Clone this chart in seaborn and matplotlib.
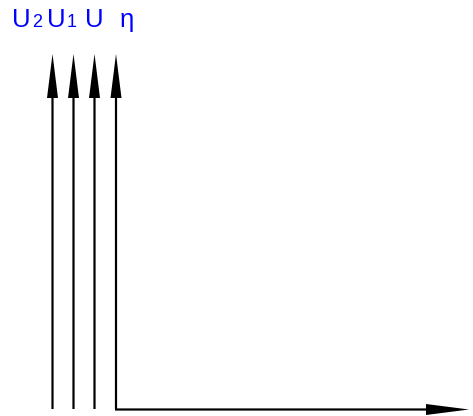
import matplotlib
matplotlib.use("Agg")
import matplotlib.pyplot as plt
import seaborn as sns

# axis labels (main symbol + subscript)
names = ["U", "U", "U", "η"]
subs = ["2", "1", "", ""]

sns.set_style("white")
plt.rcParams["font.family"] = ["Liberation Sans", "DejaVu Sans"]

# layout in pixel coordinates
axis_x = [52.5, 73.5, 94.5, 116]
label_x = [12, 47, 85, 120]
y_bottom = 409
y_top = 54
x_right = 470

fig = plt.figure(figsize=(4.73, 4.16), dpi=100)
ax = fig.add_axes([0, 0, 1, 1])
ax.set_xlim(0, 473)
ax.set_ylim(416, 0)
ax.axis("off")

#Vertical axes
for x in axis_x:
    ax.arrow(x, y_bottom, 0, y_top - y_bottom, width=2.2, head_width=11, head_length=44,
             length_includes_head=True, color="black", lw=0)

#Horizontal axis from the last vertical one
ax.arrow(axis_x[-1] - 1, y_bottom + 0.5, x_right - axis_x[-1], 0, width=2.2, head_width=11,
         head_length=43, length_includes_head=True, color="black", lw=0)

#Blue labels
for name, sub, x in zip(names, subs, label_x):
    ax.text(x, 27, name, color="#0000ff", fontsize=18.5, va="baseline", ha="left")
    if sub:
        ax.text(x + 20, 27, sub, color="#0000ff", fontsize=13, va="baseline", ha="left")

fig.savefig("out.png", dpi=100)
